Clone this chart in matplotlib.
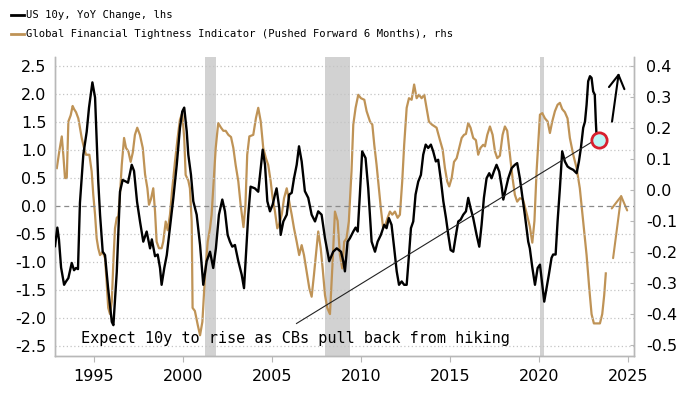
import numpy as np
import matplotlib
matplotlib.use("Agg")
import matplotlib.pyplot as plt
from matplotlib.lines import Line2D

# US 10y yield, YoY change (lhs)
us10y_years = [1992.81, 1992.94, 1993.03, 1993.15, 1993.32, 1993.43, 1993.56, 1993.75, 1993.88, 1993.99,
               1994.10, 1994.21, 1994.40, 1994.59, 1994.72, 1994.91, 1995.06, 1995.24, 1995.34, 1995.49,
               1995.62, 1995.79, 1996.00, 1996.09, 1996.28, 1996.46, 1996.61, 1996.80, 1996.91, 1997.12,
               1997.25, 1997.42, 1997.59, 1997.77, 1997.96, 1998.15, 1998.25, 1998.43, 1998.58, 1998.71,
               1998.80, 1998.95, 1999.09, 1999.27, 1999.46, 1999.65, 1999.83, 1999.96, 2000.07, 2000.21,
               2000.30, 2000.45, 2000.58, 2000.77, 2000.96, 2001.14, 2001.33, 2001.52, 2001.70, 2001.85,
               2002.02, 2002.21, 2002.36, 2002.51, 2002.64, 2002.77, 2002.92, 2003.11, 2003.30, 2003.43,
               2003.54, 2003.67, 2003.80, 2004.04, 2004.23, 2004.37, 2004.48, 2004.61, 2004.74, 2004.89,
               2005.04, 2005.17, 2005.26, 2005.41, 2005.49, 2005.64, 2005.83, 2005.97, 2006.11, 2006.24,
               2006.39, 2006.52, 2006.67, 2006.85, 2007.04, 2007.23, 2007.42, 2007.60, 2007.79, 2007.98,
               2008.22, 2008.44, 2008.64, 2008.88, 2009.01, 2009.10, 2009.25, 2009.38, 2009.57, 2009.70,
               2009.82, 2009.94, 2010.07, 2010.26, 2010.41, 2010.60, 2010.79, 2010.94, 2011.12, 2011.31,
               2011.44, 2011.57, 2011.72, 2011.87, 2012.01, 2012.14, 2012.29, 2012.43, 2012.57, 2012.70,
               2012.81, 2012.94, 2013.07, 2013.22, 2013.37, 2013.50, 2013.64, 2013.78, 2013.93, 2014.06,
               2014.21, 2014.34, 2014.48, 2014.63, 2014.78, 2014.91, 2015.04, 2015.19, 2015.34, 2015.47,
               2015.60, 2015.75, 2015.90, 2016.03, 2016.16, 2016.31, 2016.50, 2016.65, 2016.78, 2016.91,
               2017.06, 2017.21, 2017.34, 2017.47, 2017.62, 2017.77, 2017.91, 2018.00, 2018.15, 2018.28,
               2018.47, 2018.65, 2018.78, 2018.93, 2019.08, 2019.21, 2019.40, 2019.49, 2019.63, 2019.78,
               2019.93, 2020.06, 2020.17, 2020.30, 2020.43, 2020.56, 2020.71, 2020.80, 2020.94, 2021.05,
               2021.18, 2021.31, 2021.46, 2021.61, 2021.74, 2021.93, 2022.12, 2022.25, 2022.36, 2022.49,
               2022.59, 2022.68, 2022.77, 2022.87, 2022.96, 2023.05, 2023.14, 2023.20, 2023.24]
us10y_values = [-0.72, -0.39, -0.60, -1.10, -1.41, -1.35, -1.29, -1.02, -1.15, -1.11,
                -1.13, 0.05, 0.91, 1.32, 1.75, 2.20, 1.93, 0.43, -0.16, -0.82,
                -0.88, -1.46, -2.07, -2.13, -1.18, 0.25, 0.46, 0.43, 0.41, 0.73,
                0.62, 0.07, -0.29, -0.64, -0.46, -0.76, -0.60, -0.90, -0.87, -1.11,
                -1.41, -1.11, -0.88, -0.39, 0.14, 0.73, 1.39, 1.68, 1.75, 1.33,
                0.91, 0.55, 0.08, -0.16, -0.70, -1.41, -0.99, -0.82, -1.11, -0.76,
                -0.16, 0.11, -0.10, -0.52, -0.64, -0.73, -0.70, -0.99, -1.23, -1.47,
                -0.87, -0.16, 0.34, 0.31, 0.25, 0.67, 1.00, 0.73, 0.08, -0.10,
                0.02, 0.20, 0.31, -0.04, -0.52, -0.28, -0.16, 0.20, 0.23, 0.49,
                0.73, 1.06, 0.79, 0.26, 0.14, -0.16, -0.28, -0.10, -0.16, -0.58,
                -0.99, -0.82, -0.76, -0.82, -0.99, -1.17, -0.64, -0.58, -0.46, -0.39,
                -0.46, 0.20, 0.97, 0.85, 0.31, -0.64, -0.82, -0.64, -0.52, -0.34,
                -0.40, -0.22, -0.34, -0.76, -1.17, -1.41, -1.35, -1.41, -1.41, -0.88,
                -0.40, -0.28, 0.20, 0.43, 0.55, 0.91, 1.09, 1.03, 1.09, 0.97,
                0.79, 0.82, 0.49, 0.08, -0.22, -0.52, -0.79, -0.82, -0.52, -0.28,
                -0.25, -0.16, -0.10, 0.14, -0.04, -0.22, -0.52, -0.73, -0.34, 0.14,
                0.49, 0.58, 0.49, 0.61, 0.73, 0.61, 0.34, 0.11, 0.31, 0.49,
                0.67, 0.73, 0.76, 0.49, 0.14, -0.16, -0.64, -0.76, -1.10, -1.41,
                -1.11, -1.05, -1.35, -1.71, -1.47, -1.23, -0.93, -0.87, -0.87, -0.28,
                0.31, 0.97, 0.79, 0.70, 0.67, 0.64, 0.58, 0.79, 1.03, 1.39,
                1.50, 1.80, 2.22, 2.31, 2.28, 2.04, 1.98, 1.50, 1.25]

# Global Financial Tightness Indicator, pushed forward 6 months (rhs)
gfti_years = [1992.91, 1993.05, 1993.19, 1993.28, 1993.37, 1993.47, 1993.56, 1993.69, 1993.80, 1993.88,
              1993.99, 1994.12, 1994.31, 1994.44, 1994.55, 1994.74, 1994.87, 1994.96, 1995.06, 1995.15,
              1995.24, 1995.34, 1995.49, 1995.62, 1995.71, 1995.80, 1995.90, 1996.00, 1996.09, 1996.18,
              1996.28, 1996.37, 1996.46, 1996.56, 1996.69, 1996.80, 1996.93, 1997.06, 1997.18, 1997.30,
              1997.43, 1997.58, 1997.74, 1997.87, 1998.00, 1998.09, 1998.20, 1998.33, 1998.43, 1998.52,
              1998.65, 1998.80, 1998.89, 1999.03, 1999.14, 1999.27, 1999.40, 1999.55, 1999.70, 1999.83,
              1999.96, 2000.07, 2000.15, 2000.30, 2000.39, 2000.49, 2000.54, 2000.67, 2000.83, 2000.96,
              2001.09, 2001.24, 2001.39, 2001.52, 2001.61, 2001.70, 2001.84, 2001.98, 2002.14, 2002.27,
              2002.40, 2002.55, 2002.70, 2002.83, 2002.96, 2003.11, 2003.24, 2003.40, 2003.51, 2003.61,
              2003.73, 2003.95, 2004.10, 2004.23, 2004.37, 2004.51, 2004.66, 2004.79, 2004.93, 2005.04,
              2005.17, 2005.30, 2005.41, 2005.55, 2005.68, 2005.83, 2005.97, 2006.11, 2006.24, 2006.39,
              2006.53, 2006.67, 2006.80, 2006.95, 2007.10, 2007.23, 2007.36, 2007.51, 2007.60, 2007.74,
              2007.85, 2007.98, 2008.11, 2008.26, 2008.41, 2008.54, 2008.69, 2008.82, 2008.95, 2009.06,
              2009.19, 2009.32, 2009.47, 2009.57, 2009.70, 2009.85, 2010.00, 2010.19, 2010.32, 2010.51,
              2010.64, 2010.75, 2010.88, 2011.01, 2011.12, 2011.25, 2011.39, 2011.50, 2011.63, 2011.76,
              2011.91, 2012.06, 2012.19, 2012.32, 2012.43, 2012.57, 2012.70, 2012.85, 2012.99, 2013.13,
              2013.26, 2013.41, 2013.56, 2013.69, 2013.82, 2013.99, 2014.25, 2014.44, 2014.59, 2014.72,
              2014.85, 2014.96, 2015.10, 2015.23, 2015.38, 2015.52, 2015.66, 2015.79, 2015.90, 2016.03,
              2016.16, 2016.31, 2016.46, 2016.59, 2016.72, 2016.87, 2016.97, 2017.10, 2017.25, 2017.40,
              2017.53, 2017.66, 2017.81, 2017.96, 2018.09, 2018.22, 2018.37, 2018.52, 2018.65, 2018.78,
              2018.93, 2019.10, 2019.33, 2019.49, 2019.63, 2019.75, 2019.87, 2020.06, 2020.19, 2020.34,
              2020.49, 2020.62, 2020.75, 2020.90, 2021.05, 2021.18, 2021.31, 2021.46, 2021.61, 2021.74,
              2021.93, 2022.12, 2022.30, 2022.49, 2022.68, 2022.83, 2022.96, 2023.09, 2023.26, 2023.43,
              2023.56, 2023.67, 2023.76]
gfti_values = [0.070, 0.124, 0.172, 0.110, 0.038, 0.038, 0.220, 0.240, 0.270, 0.260,
               0.250, 0.230, 0.167, 0.135, 0.113, 0.113, 0.059, -0.016, -0.080, -0.156,
               -0.188, -0.210, -0.200, -0.220, -0.296, -0.380, -0.400, -0.360, -0.230, -0.124,
               -0.090, -0.085, -0.016, 0.080, 0.167, 0.135, 0.124, 0.090, 0.120, 0.177,
               0.200, 0.177, 0.135, 0.050, 0.005, -0.048, -0.030, 0.005, -0.070, -0.167,
               -0.188, -0.188, -0.167, -0.102, -0.130, -0.080, 0.005, 0.090, 0.167, 0.226,
               0.247, 0.167, 0.048, 0.030, 0.005, -0.102, -0.380, -0.390, -0.435, -0.468,
               -0.425, -0.274, -0.167, -0.124, -0.080, 0.005, 0.135, 0.215, 0.200, 0.190,
               0.190, 0.177, 0.170, 0.135, 0.080, 0.027, -0.048, -0.120, -0.050, 0.113,
               0.172, 0.177, 0.231, 0.264, 0.220, 0.135, 0.102, 0.080, 0.027, -0.027,
               -0.070, -0.124, -0.110, -0.080, -0.027, 0.005, -0.038, -0.080, -0.124, -0.167,
               -0.210, -0.178, -0.210, -0.264, -0.317, -0.344, -0.274, -0.188, -0.134, -0.188,
               -0.253, -0.339, -0.380, -0.400, -0.230, -0.070, -0.100, -0.210, -0.253, -0.167,
               -0.156, -0.102, 0.059, 0.210, 0.264, 0.306, 0.295, 0.290, 0.253, 0.220,
               0.210, 0.145, 0.080, 0.005, -0.060, -0.124, -0.110, -0.090, -0.070, -0.080,
               -0.070, -0.090, -0.080, 0.027, 0.145, 0.264, 0.295, 0.290, 0.339, 0.295,
               0.306, 0.295, 0.306, 0.264, 0.220, 0.210, 0.200, 0.160, 0.130, 0.070,
               0.027, 0.011, 0.038, 0.090, 0.102, 0.135, 0.167, 0.177, 0.180, 0.215,
               0.200, 0.167, 0.160, 0.113, 0.135, 0.145, 0.140, 0.177, 0.204, 0.177,
               0.124, 0.102, 0.110, 0.177, 0.204, 0.190, 0.113, 0.038, -0.016, -0.038,
               -0.027, -0.030, -0.080, -0.118, -0.170, -0.100, 0.059, 0.242, 0.247, 0.230,
               0.220, 0.183, 0.220, 0.253, 0.274, 0.280, 0.260, 0.250, 0.230, 0.167,
               0.113, 0.070, 0.005, -0.102, -0.210, -0.317, -0.400, -0.430, -0.430, -0.430,
               -0.400, -0.339, -0.269]

recessions = [(2001.22, 2001.85), (2007.97, 2009.37), (2020.08, 2020.30)]
left_ticks = [-2.5, -2.0, -1.5, -1.0, -0.5, 0.0, 0.5, 1.0, 1.5, 2.0, 2.5]
right_ticks = [-0.5, -0.4, -0.3, -0.2, -0.1, 0.0, 0.1, 0.2, 0.3, 0.4]
year_ticks = [1995, 2000, 2005, 2010, 2015, 2020, 2025]

TAN = '#bf9356'
GREY = '#b8b8b8'
MONO = 'DejaVu Sans Mono'

fig = plt.figure(figsize=(7, 3.94), dpi=100)
ax = fig.add_axes([0.0786, 0.0964, 0.827, 0.760])
ax2 = ax.twinx()
# black series should be drawn over the tan one
ax.set_zorder(ax2.get_zorder() + 1)
ax.patch.set_visible(False)

for start, end in recessions:
    ax2.axvspan(start, end, color='#d2d2d2', lw=0, zorder=0)

for t in left_ticks:
    if t == 0:
        ax.axhline(0, color='#8a8a8a', lw=0.9, ls=(0, (4, 3)), zorder=1)
    else:
        ax.axhline(t, color='#c4c4c4', lw=0.9, ls=(0, (1, 2)), zorder=1)

ax2.plot(gfti_years, gfti_values, color=TAN, lw=1.6, zorder=2)
ax.plot(us10y_years, us10y_values, color='black', lw=1.7, zorder=3)

# trend line and highlight
ax.plot([2006.38, 2023.2], [-2.1, 1.18], color='#222222', lw=0.8, zorder=3)
ax.plot([2023.36], [1.18], marker='o', ms=11, mfc='#bff5f5', mec='#d8202e', mew=2.0, zorder=4)
arrow_style = '->,head_length=0.6,head_width=0.35'
ax.annotate('', xy=(2024.49, 2.37), xytext=(2024.11, 1.5),
            arrowprops=dict(arrowstyle=arrow_style, color='black', lw=1.5,
                            mutation_scale=16, shrinkA=0, shrinkB=0))
ax2.annotate('', xy=(2024.64, -0.014), xytext=(2024.17, -0.22),
             arrowprops=dict(arrowstyle=arrow_style, color=TAN, lw=1.5,
                             mutation_scale=16, shrinkA=0, shrinkB=0))

ax.text(1994.27, -2.45, 'Expect 10y to rise as CBs pull back from hiking',
        family=MONO, fontsize=11, va='baseline', ha='left', zorder=5)

ax.set_xlim(1992.81, 2025.34)
ax.set_ylim(-2.68, 2.66)
ax2.set_ylim(-0.535, 0.429)
ax.set_xticks(year_ticks)
ax.set_yticks(left_ticks)
ax.set_yticklabels(['%.1f' % t for t in left_ticks])
ax2.set_yticks(right_ticks)
ax2.set_yticklabels(['%.1f' % t for t in right_ticks])

ax.tick_params(axis='x', direction='out', length=4, color=GREY, labelsize=11.5, pad=5)
ax.tick_params(axis='y', length=0, labelsize=11.5, pad=6)
ax2.tick_params(axis='y', direction='in', length=3, color=GREY, labelsize=11.5, pad=9)

for a in (ax, ax2):
    a.spines['top'].set_visible(False)
    for side in ('left', 'right', 'bottom'):
        a.spines[side].set_color(GREY)
        a.spines[side].set_linewidth(1.0)

handles = [Line2D([], [], color='black', lw=2.0), Line2D([], [], color=TAN, lw=2.0)]
labels = ['US 10y, YoY Change, lhs',
          'Global Financial Tightness Indicator (Pushed Forward 6 Months), rhs']
fig.legend(handles, labels, loc='upper left', bbox_to_anchor=(0.002, 0.998), frameon=False,
           handlelength=1.2, handletextpad=0.2, labelspacing=0.85,
           prop={'family': MONO, 'size': 7.6})

fig.savefig('out.png', dpi=100)
